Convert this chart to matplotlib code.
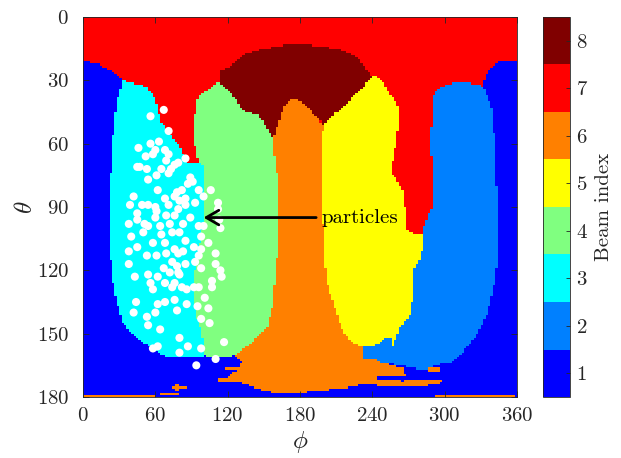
import matplotlib
matplotlib.use('Agg')
import matplotlib.pyplot as plt
import numpy as np
from matplotlib.path import Path
from matplotlib.colors import ListedColormap

plt.rcParams['font.family'] = ['cmr10', 'DejaVu Serif']
plt.rcParams['mathtext.fontset'] = 'cm'
plt.rcParams['axes.formatter.use_mathtext'] = True
plt.rcParams['axes.unicode_minus'] = False

# jet(8) colours, one per beam
beam_colors = ['#0000ff', '#0080ff', '#00ffff', '#80ff80',
               '#ffff00', '#ff8000', '#ff0000', '#800000']
beam_ticks = [1, 2, 3, 4, 5, 6, 7, 8]
phi_ticks = [0, 60, 120, 180, 240, 300, 360]
theta_ticks = [0, 30, 60, 90, 120, 150, 180]

# region outlines as (phi, theta); beam 1 fills the rest
red_region = [(0, 0), (360, 0), (360, 21), (346, 21), (340, 23), (335, 27), (333, 30),
              (330, 40), (310, 60), (300, 104), (60, 104), (40, 45), (33, 30), (28, 27),
              (22, 25), (12, 22), (0, 21)]
cyan_region = [(33, 30), (39, 31), (53, 33), (60, 39), (64, 49), (74, 57), (79, 60),
               (83, 65), (87, 69), (100, 69), (108, 100), (108, 160), (90, 161),
               (74, 161.5), (66, 160), (57, 157), (45, 152), (38, 149), (33, 144.5),
               (28, 135), (25, 126), (23, 115), (22.5, 100), (22.5, 80), (24, 61), (28, 40)]
green_region = [(94, 40), (97, 37), (103, 34.6), (111, 31), (113.6, 30.8), (118, 33),
                (128.6, 40.3), (132, 44), (145, 46.4), (151, 51), (157, 57), (157.6, 60.6),
                (161, 74), (162, 95), (161, 113.7), (159, 127), (157, 138), (153, 147),
                (145, 150.6), (140, 154.4), (132, 157.7), (126, 160), (118, 161.5),
                (103, 161), (101, 160), (100, 155), (98, 149), (95, 143), (92, 135),
                (91, 126), (94, 117), (99, 101), (101, 86.7), (101, 70), (95.4, 69),
                (94.6, 65), (93, 61), (93, 46)]
darkred_region = [(113.6, 30.8), (113.6, 25), (122, 24), (124, 22.7), (132, 18), (145, 15.6),
                  (159, 14.2), (173, 12.8), (187, 13.3), (201, 14.2), (215, 15.6), (228, 19),
                  (232, 22.7), (240, 28.4), (234, 32), (226, 37), (217, 41.7), (209, 45.5),
                  (201, 49.7), (199.5, 51), (192.4, 46.4), (186.6, 43), (181.7, 40.7),
                  (177.5, 39.3), (173.4, 39.3), (170, 39.8), (166, 43), (161.8, 51),
                  (157.5, 58), (151, 51), (145, 46.4), (132, 44), (128.6, 40.3), (118, 33)]
yellow_region = [(239.7, 28.4), (242.2, 27.5), (243.8, 28.4), (248.9, 30.8), (254.7, 36.9),
                 (260.5, 40.7), (263, 45), (261.3, 51.2), (260.5, 58.3), (257.2, 66.3),
                 (256.3, 73.9), (265.4, 82), (267.1, 90), (268.8, 100.9), (277, 103.3),
                 (281, 103.3), (282, 109), (279.5, 115), (273.7, 119.8), (273.7, 133),
                 (271.2, 141.2), (263, 147.3), (260.5, 150.6), (257, 156.3), (254.7, 151.6),
                 (250.5, 151.6), (246.4, 154.4), (238, 156.3), (231, 156.3), (223, 154),
                 (214.8, 148.3), (209, 137.8), (203, 127), (200.7, 117.5), (200.7, 105.6),
                 (198.3, 95), (199, 74), (198.3, 58), (199.5, 51), (201, 49.7), (209, 45.5),
                 (217, 41.7), (225.6, 37), (234, 32)]
lightblue_region = [(290.3, 36.9), (292, 36), (296, 33.2), (307, 31.3), (321, 31.3),
                    (329.3, 32.2), (333.5, 34.6), (336, 38.4), (339.3, 43.1), (341.8, 60.6),
                    (343.4, 86.7), (343.4, 117.5), (340, 130.3), (335, 141.2), (326.8, 150.6),
                    (315, 158.7), (307, 163.4), (293.6, 164.8), (282, 167.2), (265, 165),
                    (250, 164), (238, 162), (231, 161.5), (231, 156.3), (238, 156.3),
                    (246.4, 154.4), (250.5, 151.6), (254.7, 151.6), (257, 156.3),
                    (260.5, 150.6), (263, 147.3), (271.2, 141.2), (273.7, 133),
                    (273.7, 119.8), (279.5, 115), (282, 109), (281, 103.3), (283.7, 97.6),
                    (289.5, 90), (290.3, 73.9), (287.8, 58.3), (289.5, 50)]
orange_region = [(157.5, 58), (161.8, 51), (166, 43), (170, 39.8), (173.4, 39.3),
                 (177.5, 39.3), (181.7, 40.7), (186.6, 43), (192.4, 46.4), (198.3, 51),
                 (199.5, 51), (198.3, 58), (199, 74), (198.3, 95), (200.7, 105.6),
                 (200.7, 117.5), (203, 127), (209, 137.8), (214.8, 148.3), (223, 154),
                 (231, 156.3), (231, 161.5), (240, 161.5), (246, 163.4), (257, 164.8),
                 (265, 166.3), (267, 169.5), (254, 169.6), (244, 170.5), (243, 171.5),
                 (265, 172.5), (282, 171.8), (298.6, 172.5), (296, 174), (279.5, 174.8),
                 (265, 175.2), (245, 174.5), (234, 173.4), (223, 175.3), (201, 176.7),
                 (178, 178), (159, 178), (143, 175.7), (130, 173), (112, 172.5), (112, 171),
                 (120, 170.5), (128.6, 167), (118, 166.5), (118, 165.5), (130, 165.5),
                 (132, 163.5), (128, 161.5), (126, 160), (132, 157.7), (140, 154.4),
                 (145, 150.6), (153, 147), (157, 138), (159, 127), (161, 113.7), (162, 95),
                 (161, 74), (157.6, 60.6)]
orange_bits = [[(0, 179), (60, 179), (60, 180), (0, 180)],
               [(292, 179), (357, 179), (357, 180), (292, 180)],
               [(64, 178), (79, 178), (79, 179), (64, 179)],
               [(74, 175), (86, 175), (86, 176), (74, 176)],
               [(76, 174), (80, 174), (80, 177), (76, 177)],
               [(286, 166), (296, 166), (296, 167.6), (286, 167.6)]]

regions = ([(7, red_region), (3, cyan_region), (4, green_region), (8, darkred_region),
            (5, yellow_region), (2, lightblue_region), (6, orange_region)]
           + [(6, b) for b in orange_bits])

# particle positions (phi, theta)
particle_phi = [56, 67, 71, 56, 63, 46, 60, 68, 52, 58, 71, 85, 45, 47, 53, 65, 69, 76, 73, 79,
                61, 71, 54, 89, 91, 62, 78, 82, 96, 106, 87, 42, 68, 76, 80, 85, 93, 100, 112, 39,
                49, 54, 60, 71, 79, 85, 61, 45, 60, 69, 76, 89, 112, 113, 38, 45, 51, 54, 64, 72,
                83, 96, 100, 114, 40, 50, 65, 74, 80, 98, 104, 58, 68, 76, 85, 92, 98, 38, 45, 53,
                61, 69, 79, 83, 96, 110, 38, 74, 78, 85, 93, 67, 72, 79, 110, 114, 98, 54, 62, 80,
                43, 56, 68, 76, 82, 107, 107, 115, 58, 74, 86, 92, 96, 101, 44, 62, 68, 76, 86, 95,
                42, 60, 78, 104, 53, 54, 98, 105, 64, 80, 58, 62, 87, 98, 80, 110, 94, 117]
particle_theta = [47, 44, 54, 60, 59, 62, 63, 63, 66, 65, 65, 67, 71, 71, 72, 72, 68, 70, 72, 69,
                  75, 74, 77, 76, 78, 82, 83, 82, 82, 82, 79, 85, 86, 85, 87, 86, 88, 85, 88, 89,
                  89, 89, 90, 89, 91, 89, 92, 93, 95, 94, 94, 95, 91, 96, 98, 96, 98, 99, 99, 98,
                  98, 99, 99, 100, 104, 102, 103, 102, 102, 104, 107, 107, 107, 110, 106, 109, 110,
                  111, 109, 113, 113, 112, 112, 111, 113, 112, 117, 116, 118, 117, 116, 119, 121,
                  121, 117, 120, 119, 122, 123, 122, 123, 126, 126, 126, 128, 125, 128, 123, 129,
                  128, 129, 128, 128, 133, 135, 136, 135, 134, 136, 137, 140, 140, 139, 138, 142,
                  146, 143, 145, 148, 152, 157, 156, 156, 157, 159, 162, 165, 154]

# rasterise the outlines onto the beam grid
phi_edges = np.arange(0, 361, 2)
theta_edges = np.arange(0, 181, 1)
pc, tc = np.meshgrid((phi_edges[:-1] + phi_edges[1:]) / 2, (theta_edges[:-1] + theta_edges[1:]) / 2)
pts = np.column_stack([pc.ravel(), tc.ravel()])
beam = np.ones(pc.shape)
for idx, poly in regions:
    inside = Path(poly).contains_points(pts).reshape(pc.shape)
    beam[inside] = idx

dark = '#262626'
fig = plt.figure(figsize=(6.21, 4.58), dpi=100)
ax = fig.add_axes([83 / 621, 61 / 458, 434 / 621, 380 / 458])
cax = fig.add_axes([543 / 621, 61 / 458, 27 / 621, 380 / 458])

cmap = ListedColormap(beam_colors)
mesh = ax.pcolormesh(phi_edges, theta_edges, beam, cmap=cmap, vmin=0.5, vmax=8.5,
                     shading='flat', rasterized=True)
ax.scatter(particle_phi, particle_theta, s=34, c='white', edgecolors='none', zorder=3)

ax.annotate('particles', xy=(100, 95), xytext=(198, 95), fontsize=15, ha='left', va='center',
            arrowprops=dict(arrowstyle='->,head_length=0.6,head_width=0.35', lw=2,
                            color='k', shrinkB=0))

ax.set_xlim(0, 360)
ax.set_ylim(180, 0)
ax.set_xticks(phi_ticks)
ax.set_yticks(theta_ticks)
ax.tick_params(direction='in', top=True, right=True, length=4, width=0.6, colors=dark,
               labelsize=15, labelcolor=dark)
ax.tick_params(axis='y', pad=10)
ax.tick_params(axis='x', pad=7)
for s in ax.spines.values():
    s.set_color(dark)
    s.set_linewidth(0.6)
ax.set_xlabel(r'$\phi$', fontsize=18, color=dark)
ax.set_ylabel(r'$\theta$', fontsize=18, color=dark, rotation=90)
ax.xaxis.set_label_coords(0.5, -0.085)
ax.yaxis.set_label_coords(-0.105, 0.5)

cb = fig.colorbar(mesh, cax=cax, ticks=beam_ticks)
cb.outline.set_edgecolor(dark)
cb.outline.set_linewidth(0.6)
cax.tick_params(direction='in', length=3, width=0.6, colors=dark, labelsize=15,
                labelcolor=dark, pad=4)
cb.set_label('Beam index', fontsize=15, color=dark, labelpad=5)

fig.savefig('out.png', dpi=100)
